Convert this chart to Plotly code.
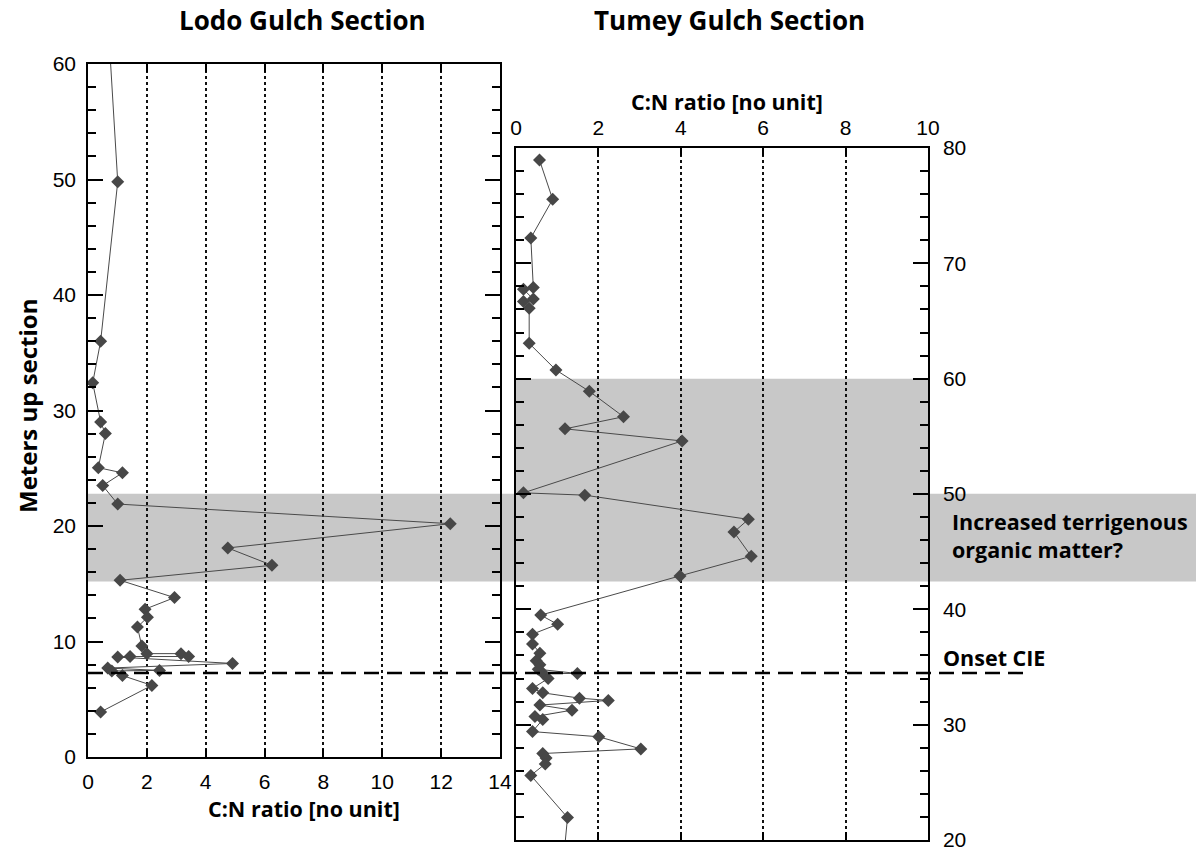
import plotly.graph_objects as go

# ---------------- data ----------------
lodo_cn = [0.58, 1.01, 0.43, 0.16, 0.43, 0.59, 0.35, 1.17, 0.50, 1.01,
           12.31, 4.75, 6.25, 1.09, 2.94, 1.94, 2.02, 1.68, 1.83, 2.00,
           3.16, 3.42, 1.43, 1.01, 4.91, 0.67, 2.43, 0.81, 1.17, 2.17,
           0.43]
lodo_height = [68.0, 49.8, 36.0, 32.4, 29.0, 28.0, 25.05, 24.6, 23.5, 21.9,
               20.2, 18.1, 16.6, 15.3, 13.8, 12.8, 12.1, 11.25, 9.6, 8.95,
               8.95, 8.7, 8.7, 8.65, 8.1, 7.7, 7.5, 7.45, 7.05, 6.2,
               3.9]

tumey_cn = [0.57, 0.89, 0.36, 0.42, 0.18, 0.42, 0.18, 0.32, 0.32, 0.97,
            1.78, 2.61, 1.19, 4.03, 0.18, 1.67, 5.64, 5.29, 5.71, 3.98,
            0.60, 1.01, 0.40, 0.40, 0.58, 0.49, 0.58, 0.54, 1.49, 0.66,
            0.78, 0.40, 0.65, 1.54, 2.24, 0.58, 1.36, 0.46, 0.65, 0.40,
            2.01, 3.03, 0.65, 0.73, 0.71, 0.36, 1.25, 1.12]
tumey_height = [78.96, 75.55, 72.2, 67.9, 67.75, 66.9, 66.7, 66.1, 63.06, 60.75,
                58.9, 56.7, 55.65, 54.6, 50.1, 49.9, 47.8, 46.7, 44.6, 42.9,
                39.5, 38.7, 37.85, 37.0, 36.2, 35.55, 35.2, 34.8, 34.44, 34.44,
                34.0, 33.14, 32.76, 32.3, 32.1, 31.7, 31.26, 30.7, 30.45, 29.4,
                28.95, 27.9, 27.5, 27.1, 26.6, 25.6, 21.95, 17.0]

lodo_band = [15.2, 22.8]      # Lodo Gulch metres (continues across to Tumey 42.5-50)
tumey_band = [50.0, 60.0]     # Tumey Gulch metres
onset_cie_lodo = 7.27         # Lodo Gulch metres

titles = ["Lodo Gulch Section", "Tumey Gulch Section"]
x_title = "C:N ratio [no unit]"
y_title = "Meters up section"
note_terr = "Increased terrigenous<br>organic matter?"
note_onset = "Onset CIE"

# ---------------- layout helpers ----------------
W, H = 1196, 848
def fx(px):
    return px / W
def fy(py):
    return 1 - py / H

MARK = "#474747"
TICKFONT = dict(family="Liberation Sans, Arial, sans-serif", size=21, color="black")
BOLD = "Open Sans, sans-serif"

fig = go.Figure()
fig.add_trace(go.Scatter(x=lodo_cn, y=lodo_height, mode="lines+markers",
                         line=dict(color="#4a4a4a", width=1),
                         marker=dict(symbol="diamond", size=10, color=MARK),
                         xaxis="x", yaxis="y", showlegend=False))
fig.add_trace(go.Scatter(x=tumey_cn, y=tumey_height, mode="lines+markers",
                         line=dict(color="#4a4a4a", width=1),
                         marker=dict(symbol="diamond", size=10, color=MARK),
                         xaxis="x2", yaxis="y2", showlegend=False))

common_x = dict(dtick=2, ticks="inside", ticklen=8, tickcolor="black", tickwidth=1.5,
                mirror="allticks", showline=True, linecolor="black", linewidth=1.5,
                showgrid=True, gridcolor="#111", griddash="dot", gridwidth=1.5,
                zeroline=False, tickfont=TICKFONT, automargin=False,
                ticklabeloverflow="allow")
common_y = dict(dtick=10, ticks="inside", ticklen=15, tickcolor="black", tickwidth=1.5,
                minor=dict(dtick=2, ticks="inside", ticklen=8, tickcolor="black", showgrid=False),
                mirror="allticks", showline=True, linecolor="black", linewidth=1.5,
                showgrid=False, zeroline=False, tickfont=TICKFONT, automargin=False,
                ticklabeloverflow="allow")

fig.update_layout(
    width=W, height=H, autosize=False,
    margin=dict(l=0, r=0, t=0, b=0, pad=0),
    paper_bgcolor="white", plot_bgcolor="rgba(0,0,0,0)",
    xaxis=dict(domain=[fx(88), fx(500)], range=[0, 14], anchor="y",
               ticklabelstandoff=5, **common_x),
    yaxis=dict(domain=[fy(757), fy(64)], range=[0, 60], anchor="x",
               ticklabelstandoff=6, **common_y),
    xaxis2=dict(domain=[fx(516), fx(928)], range=[0, 10], anchor="y2", side="top",
                ticklabelstandoff=3, **common_x),
    yaxis2=dict(domain=[fy(840), fy(148)], range=[20, 80], anchor="x2", side="right",
                ticklabelstandoff=9, **common_y),
)

# shaded bands
fig.add_shape(type="rect", xref="paper", yref="y", x0=fx(88), x1=1.0,
              y0=lodo_band[0], y1=lodo_band[1], fillcolor="#c8c8c8",
              line=dict(width=0), layer="below")
fig.add_shape(type="rect", xref="x2", yref="y2", x0=0, x1=10,
              y0=tumey_band[0], y1=tumey_band[1], fillcolor="#c8c8c8",
              line=dict(width=0), layer="below")
# onset CIE dashed line
fig.add_shape(type="line", xref="paper", yref="y", x0=fx(88), x1=fx(1030),
              y0=onset_cie_lodo, y1=onset_cie_lodo,
              line=dict(color="black", width=2.5, dash="15px,8px"), layer="above")

def ann(text, px, py, size, xanchor="center", yanchor="middle", angle=0, align="center"):
    fig.add_annotation(text=text, x=fx(px), y=fy(py), xref="paper", yref="paper",
                       showarrow=False, xanchor=xanchor, yanchor=yanchor, textangle=angle,
                       align=align,
                       font=dict(family=BOLD, size=size, color="black", weight="bold"))

ann(titles[0], 302, 20, 26)
ann(titles[1], 729, 20, 26)
ann(x_title, 304, 808, 21.5)
ann(x_title, 727, 102, 21.5)
ann(y_title, 27, 406, 24, angle=-90)
ann(note_terr, 950, 535, 21.5, xanchor="left", align="left")
ann(note_onset, 941, 657, 21.5, xanchor="left")

fig.write_html("out.html")
